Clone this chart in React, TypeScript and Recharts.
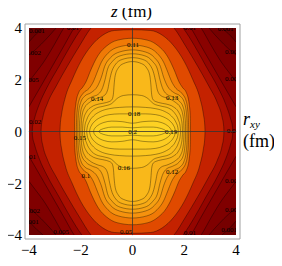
import React from 'react';
import { ComposedChart, Area, Line, Scatter, XAxis, YAxis } from 'recharts';

const W = 282;
const H = 266;
const SERIF = '"Liberation Serif", "Times New Roman", serif';

// contour lines: upper half of each closed curve, x >= 0, as [x, h]
// (the curve is mirrored about x = 0 and y = 0); h > 4 means the line runs outside the plot
const c0001 = [[0, 5], [3.0, 4.6], [3.45, 4.0], [3.7, 3.78], [3.9, 3.57], [4.0, 3.45]];
const c0002 = [[0, 5], [2.5, 4.6], [2.95, 4.0], [3.35, 3.55], [3.7, 3.2], [4.0, 2.95]];
const c0005 = [[0, 5], [2.2, 4.6], [2.65, 4.0], [3.05, 3.3], [3.45, 2.65], [3.75, 2.25], [4.0, 1.92]];
const c001 = [[0, 5], [1.8, 4.55], [2.25, 4.0], [2.65, 3.3], [3.05, 2.6], [3.45, 1.9], [3.75, 1.38], [4.0, 0.95]];
const c002 = [[0, 5], [1.5, 4.45], [1.95, 4.0], [2.4, 3.3], [2.85, 2.5], [3.3, 1.7], [3.6, 1.05], [3.79, 0.48], [3.86, 0.18], [3.87, 0]];
const c003 = [[0, 4.8], [1.2, 4.35], [1.6, 4.0], [2.05, 3.3], [2.5, 2.55], [2.95, 1.75], [3.28, 1.1], [3.46, 0.55], [3.52, 0.2], [3.53, 0]];
const c005 = [[0, 3.93], [0.7, 3.9], [1.15, 3.72], [1.6, 3.3], [2.0, 2.7], [2.33, 2.0], [2.6, 1.3], [2.74, 0.65], [2.79, 0.25], [2.8, 0]];
const c010 = [[0, 3.6], [0.6, 3.52], [1.0, 3.3], [1.3, 2.98], [1.5, 2.62], [1.65, 2.28], [1.78, 1.95], [1.93, 1.7], [2.08, 1.5], [2.19, 1.05], [2.235, 0.5], [2.24, 0]];
const c011 = [[0, 3.34], [0.55, 3.26], [0.95, 3.02], [1.2, 2.68], [1.36, 2.3], [1.5, 1.95], [1.68, 1.66], [1.9, 1.48], [2.08, 1.15], [2.15, 0.6], [2.17, 0]];
const c012 = [[0, 3.15], [0.5, 3.07], [0.85, 2.85], [1.08, 2.5], [1.2, 2.1], [1.35, 1.75], [1.6, 1.5], [1.85, 1.36], [2.0, 1.12], [2.08, 0.72], [2.105, 0.35], [2.11, 0]];
const c013 = [[0, 3.0], [0.45, 2.93], [0.78, 2.7], [0.97, 2.38], [1.06, 2.0], [1.15, 1.7], [1.32, 1.44], [1.55, 1.34], [1.8, 1.18], [1.96, 0.93], [2.02, 0.6], [2.045, 0.3], [2.05, 0]];
const c014 = [[0, 2.85], [0.4, 2.78], [0.68, 2.56], [0.82, 2.25], [0.9, 1.9], [0.96, 1.6], [1.1, 1.38], [1.37, 1.28], [1.65, 1.13], [1.85, 0.92], [1.95, 0.6], [1.98, 0.3], [1.99, 0]];
const c015 = [[0, 2.7], [0.35, 2.62], [0.55, 2.45], [0.67, 2.15], [0.71, 1.8], [0.74, 1.42], [0.8, 1.22], [1.0, 1.12], [1.3, 1.06], [1.58, 0.95], [1.78, 0.75], [1.89, 0.45], [1.92, 0.22], [1.93, 0]];
const c016 = [[0, 1.42], [0.35, 1.39], [0.6, 1.27], [0.8, 1.08], [1.1, 0.98], [1.4, 0.9], [1.62, 0.72], [1.77, 0.45], [1.84, 0.2], [1.86, 0]];
const c017 = [[0, 0.95], [0.5, 0.93], [0.9, 0.88], [1.25, 0.77], [1.5, 0.6], [1.67, 0.37], [1.75, 0.15], [1.77, 0]];
const c018 = [[0, 0.68], [0.5, 0.68], [0.9, 0.65], [1.2, 0.56], [1.45, 0.4], [1.58, 0.24], [1.64, 0.1], [1.66, 0]];
const c019 = [[0, 0.32], [0.4, 0.38], [0.8, 0.4], [1.1, 0.35], [1.33, 0.24], [1.45, 0.13], [1.49, 0.06], [1.5, 0]];
const c020 = [[0, 0.14], [0.4, 0.17], [0.8, 0.17], [1.05, 0.13], [1.2, 0.08], [1.27, 0.04], [1.3, 0]];

const contours = [c0001, c0002, c0005, c001, c002, c003, c005, c010, c011, c012, c013, c014, c015, c016, c017, c018, c019, c020];

// colour below the lowest level, then the band inside each level
const outsideColor = '#6c0000';
const bandColors = [
  '#760000', '#800000', '#8a0200', '#950500', '#aa0f00', '#c42200', '#e04a00',
  '#f07a06', '#f5920e', '#f6a012', '#f7a915', '#f8b118', '#f9b81a', '#fabf1d',
  '#fbc61f', '#fccc21', '#fdd223', '#fed826',
];

// contour labels [x, y, text]
const contourLabels: [number, number, string][] = [
  [-3.69, 3.88, '0.001'], [3.6, 3.96, '0.001'], [-2.3, 4.0, '0.01'], [2.22, 4.0, '0.01'],
  [-3.84, 3.03, '0.002'], [3.88, 3.07, '0.002'], [-3.92, 1.99, '0.005'], [3.88, 2.03, '0.005'],
  [-3.76, 0.37, '0.02'], [3.88, 0.02, '0.02'], [-3.96, -0.98, '0.01'], [3.88, -1.91, '0.005'],
  [-3.88, -3.07, '0.002'], [3.88, -3.03, '0.002'], [-3.92, -3.49, '0.001'], [3.73, -3.8, '0.001'],
  [-2.76, -3.88, '0.005'], [2.22, -3.92, '0.01'], [-0.25, -3.88, '0.05'],
  [0.02, 3.34, '0.11'], [-1.37, 1.29, '0.14'], [1.53, 1.33, '0.13'], [0.06, 0.68, '0.18'],
  [0, -0.02, '0.2'], [1.49, -0.02, '0.19'], [-2.03, -0.25, '0.15'], [-0.33, -1.41, '0.16'],
  [1.53, -1.53, '0.12'], [-1.8, -1.72, '0.1'],
];

const plotRange = [-4, 4];
const frameRange = [-4.15, 4.15];
const majorTicks = [-4, -2, 0, 2, 4];
const minorTicks = [-3.5, -3, -2.5, -1.5, -1, -0.5, 0.5, 1, 1.5, 2.5, 3, 3.5];

const mirror = (half: number[][]) => [
  ...half.slice(1).reverse().map(([x, h]) => [-x, h]),
  ...half,
];

const contourRows = contours.map((half) =>
  mirror(half).map(([x, h]) => ({ x, r: [-h, h], up: h, dn: -h }))
);
const backRows = plotRange.map((x) => ({ x, r: plotRange }));
const labelRows = contourLabels.map(([x, y, t]) => ({ x, y, t }));
const hAxisRows = plotRange.map((x) => ({ x, y: 0 }));
const vAxisRows = plotRange.map((y) => ({ x: 0, y }));

const fmt = (v: number) => (v < 0 ? `\u2212${-v}` : `${v}`);
const frameColor = '#a0a0a0';
const tickFont = { fontSize: 15, fill: '#000', fontFamily: SERIF };

const renderLabel = (p: any) => (
  <text x={p.cx} y={p.cy} dy="0.35em" textAnchor="middle" fontSize={7} fontFamily={SERIF} fill="#000">
    {p.payload.t}
  </text>
);

const frameAxis = (id: string, side: 'top' | 'bottom' | 'left' | 'right', ticks: number[], size: number, line: boolean) => {
  const common = {
    type: 'number' as const,
    domain: frameRange,
    allowDataOverflow: true,
    ticks,
    interval: 0 as const,
    tick: false,
    mirror: true,
    tickSize: size,
    tickLine: { stroke: frameColor },
    axisLine: line ? { stroke: frameColor } : false,
  };
  return side === 'top' || side === 'bottom'
    ? <XAxis key={id} xAxisId={id} orientation={side} {...common} />
    : <YAxis key={id} yAxisId={id} orientation={side} {...common} />;
};

export default function App() {
  // pulled back over the body margin so chart pixels equal page pixels
  return (
    <div style={{ position: 'relative', width: W, height: H, margin: '-8px 0 0 -8px' }}>
      <div style={{ position: 'absolute', left: 0, top: 0 }}>
        <ComposedChart width={W} height={H} margin={{ top: 27.9, right: 45.9, bottom: 30.9, left: 28.9 }}>
          <XAxis type="number" dataKey="x" domain={plotRange} allowDataOverflow hide />
          <YAxis type="number" domain={plotRange} allowDataOverflow hide />
          <Area data={backRows} dataKey="r" type="linear" fill={outsideColor} fillOpacity={1} stroke="none"
            dot={false} activeDot={false} isAnimationActive={false} />
          {contourRows.map((rows, i) => (
            <Area key={`a${i}`} data={rows} dataKey="r" type="monotone" fill={bandColors[i]} fillOpacity={1}
              stroke="none" dot={false} activeDot={false} isAnimationActive={false} />
          ))}
          {contourRows.map((rows, i) => (
            <Line key={`u${i}`} data={rows} dataKey="up" type="monotone" stroke="#000" strokeOpacity={0.5}
              strokeWidth={0.7} dot={false} activeDot={false} isAnimationActive={false} />
          ))}
          {contourRows.map((rows, i) => (
            <Line key={`d${i}`} data={rows} dataKey="dn" type="monotone" stroke="#000" strokeOpacity={0.5}
              strokeWidth={0.7} dot={false} activeDot={false} isAnimationActive={false} />
          ))}
          <Scatter data={labelRows} dataKey="y" shape={renderLabel} isAnimationActive={false} />
        </ComposedChart>
      </div>
      <div style={{ position: 'absolute', left: 0, top: 0 }}>
        <ComposedChart width={W} height={H} margin={{ top: 24, right: 42, bottom: 2, left: 8 }}>
          <XAxis type="number" dataKey="x" domain={frameRange} allowDataOverflow ticks={majorTicks} interval={0}
            tickFormatter={fmt} tick={tickFont} axisLine={false} tickLine={false} tickSize={3} tickMargin={2} height={25} />
          <YAxis type="number" domain={frameRange} allowDataOverflow ticks={majorTicks} interval={0}
            tickFormatter={fmt} tick={tickFont} axisLine={false} tickLine={false} tickSize={1} tickMargin={2} width={17} />
          {frameAxis('bMaj', 'bottom', majorTicks, 4, true)}
          {frameAxis('bMin', 'bottom', minorTicks, 2, false)}
          {frameAxis('tMaj', 'top', majorTicks, 4, true)}
          {frameAxis('tMin', 'top', minorTicks, 2, false)}
          {frameAxis('lMaj', 'left', majorTicks, 4, true)}
          {frameAxis('lMin', 'left', minorTicks, 2, false)}
          {frameAxis('rMaj', 'right', majorTicks, 4, true)}
          {frameAxis('rMin', 'right', minorTicks, 2, false)}
          <Line data={hAxisRows} dataKey="y" type="linear" stroke="#333" strokeWidth={0.8}
            dot={false} activeDot={false} isAnimationActive={false} />
          <Line data={vAxisRows} dataKey="y" type="linear" stroke="#333" strokeWidth={0.8}
            dot={false} activeDot={false} isAnimationActive={false} />
        </ComposedChart>
      </div>
      <svg width={W} height={H} style={{ position: 'absolute', left: 0, top: 0, overflow: 'visible', pointerEvents: 'none' }}>
        <text x={131.5} y={16.5} textAnchor="middle" fontFamily={SERIF} fontSize={17}>
          <tspan fontStyle="italic">z</tspan> (fm)
        </text>
        <text x={243} y={125} fontFamily={SERIF} fontSize={18} fontStyle="italic">
          r<tspan fontSize={11} dy={3}>xy</tspan>
        </text>
        <text x={243} y={147} fontFamily={SERIF} fontSize={18}>(fm)</text>
      </svg>
    </div>
  );
}
